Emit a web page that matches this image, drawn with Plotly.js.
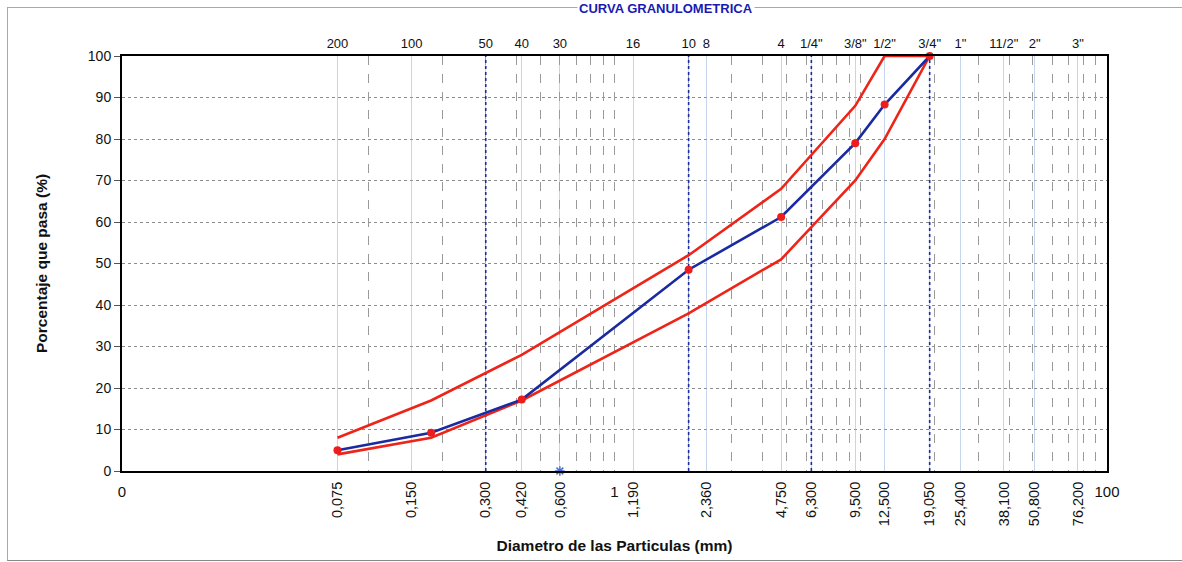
<!DOCTYPE html>
<html><head><meta charset="utf-8">
<script src="https://cdn.plot.ly/plotly-3.0.1.min.js"></script>
<style>
html,body{margin:0;padding:0;background:#fff;}
#wrap{position:relative;width:1182px;height:562px;overflow:hidden;}
#frame{position:absolute;left:7px;top:7px;width:1180px;height:552px;border-left:1px solid #a8a8a8;border-top:1px solid #a8a8a8;border-bottom:1px solid #888;}
#chart{position:absolute;left:0;top:0;width:1182px;height:562px;}
</style></head>
<body><div id="wrap"><div id="frame"></div><div id="chart"></div></div>
<script>
// Sample gradation (mm, % passing)
const sieveSizes = [0.075, 0.18, 0.42, 2.0, 4.75, 9.5, 12.5, 19.05];
const passing    = [5.0, 9.2, 17.2, 48.5, 61.2, 79.0, 88.3, 100];
// Specification envelope
const upperLimit = [8, 17, 28, 52, 68, 88, 100, 100];
const lowerLimit = [4, 8, 17, 38, 51, 70, 80, 100];

// Top axis: sieve designations
const topTickVals = [0.075, 0.15, 0.30, 0.42, 0.60, 1.19, 2.0, 2.36, 4.75, 6.3, 9.5, 12.5, 19.05, 25.4, 38.1, 50.8, 76.2];
const topTickText = ["200", "100", "50", "40", "30", "16", "10", "8", "4", "1/4\"", "3/8\"", "1/2\"", "3/4\"", "1\"", "11/2\"", "2\"", "3\""];

// Bottom axis: openings in mm
const bottomTickVals = [0.075, 0.15, 0.30, 0.42, 0.60, 1.19, 2.36, 4.75, 6.3, 9.5, 12.5, 19.05, 25.4, 38.1, 50.8, 76.2];
const bottomTickText = ["0,075", "0,150", "0,300", "0,420", "0,600", "1,190", "2,360", "4,750", "6,300", "9,500", "12,500", "19,050", "25,400", "38,100", "50,800", "76,200"];

const endTickVals = [0.01, 1, 100];
const endTickText = ["0", "1", "100"];

// Log grid lines
const gridVals = [0.1, 0.2, 0.3, 0.4, 0.5, 0.6, 0.7, 0.8, 0.9,
                  1, 2, 3, 4, 5, 6, 7, 8, 9,
                  10, 20, 30, 40, 50, 60, 70, 80, 90];

// Blue dotted control sieves
const controlLines = [0.3, 2.0, 6.3, 19.05];
const controlLow = 0, controlHigh = 100;

// Marker on the axis
const starX = [0.6];
const starY = [0];

const FONT = "Arial, 'Liberation Sans', sans-serif";
const xr = [-2, 2];

const traces = [];
controlLines.forEach(v => {
  traces.push({x: [v, v], y: [controlLow, controlHigh], mode: 'lines', xaxis: 'x', yaxis: 'y',
    line: {color: '#1b2c9c', width: 1.6, dash: 'dot'}, hoverinfo: 'skip', showlegend: false});
});
traces.push({x: sieveSizes, y: upperLimit, mode: 'lines', line: {color: '#ee2418', width: 2.6}, showlegend: false, cliponaxis: false});
traces.push({x: sieveSizes, y: lowerLimit, mode: 'lines', line: {color: '#ee2418', width: 2.6}, showlegend: false, cliponaxis: false});
traces.push({x: sieveSizes, y: passing, mode: 'lines+markers', line: {color: '#1a2aa0', width: 2.6},
  marker: {color: '#ee1d1d', size: 8}, showlegend: false, cliponaxis: false});
traces.push({x: starX, y: starY, mode: 'markers', marker: {symbol: 'asterisk-open', color: '#4a6fd8', size: 8, line: {color: '#4a6fd8', width: 1.5}},
  showlegend: false, cliponaxis: false});
// anchor traces for overlay axes
traces.push({x: topTickVals, y: topTickVals.map(() => null), xaxis: 'x2', yaxis: 'y', mode: 'markers', showlegend: false, hoverinfo: 'skip'});
traces.push({x: endTickVals, y: endTickVals.map(() => null), xaxis: 'x3', yaxis: 'y', mode: 'markers', showlegend: false, hoverinfo: 'skip'});
traces.push({x: gridVals, y: gridVals.map(() => null), xaxis: 'x4', yaxis: 'y', mode: 'markers', showlegend: false, hoverinfo: 'skip'});

const layout = {
  width: 1182, height: 562,
  margin: {l: 122, r: 75, t: 56, b: 91},
  paper_bgcolor: 'rgba(0,0,0,0)',
  plot_bgcolor: '#ffffff',
  font: {family: FONT, color: '#111'},
  showlegend: false,
  xaxis: {
    type: 'log', range: xr, tickmode: 'array', tickvals: bottomTickVals, ticktext: bottomTickText,
    tickangle: -90, tickfont: {size: 14.5, color: '#111'}, ticks: '', showgrid: false, zeroline: false,
    showline: true, linecolor: '#000', linewidth: 2, mirror: true, ticklabelstandoff: 3,
    title: {text: 'Diametro de las Particulas (mm)', font: {size: 15.5, color: '#111', family: FONT, weight: 'bold'}, standoff: 15}
  },
  xaxis2: {
    type: 'log', range: xr, overlaying: 'x', anchor: 'y', side: 'top', tickmode: 'array',
    tickvals: topTickVals, ticktext: topTickText, ticks: '', tickfont: {size: 13, color: '#111'},
    showgrid: true, gridcolor: 'rgba(150,180,220,0.55)', gridwidth: 1, zeroline: false, showline: false,
    ticklabelstandoff: 4
  },
  xaxis3: {
    type: 'log', range: xr, overlaying: 'x', anchor: 'y', side: 'bottom', tickmode: 'array',
    tickvals: endTickVals, ticktext: endTickText, ticks: '', tickangle: 0, tickfont: {size: 15, color: '#111'},
    showgrid: false, zeroline: false, showline: false, ticklabelstandoff: 10
  },
  xaxis4: {
    type: 'log', range: xr, overlaying: 'x', anchor: 'y', side: 'bottom', tickmode: 'array',
    tickvals: gridVals, showticklabels: false, ticks: '',
    showgrid: true, gridcolor: '#9a9a9a', gridwidth: 1, griddash: 'dash', zeroline: false, showline: false
  },
  yaxis: {
    range: [0, 100], dtick: 10, tick0: 0, ticks: 'outside', ticklen: 6, tickcolor: '#555', tickwidth: 1,
    tickfont: {size: 14, color: '#111'}, showgrid: true, gridcolor: '#8c8c8c', griddash: 'dot', gridwidth: 1,
    zeroline: false, showline: true, linecolor: '#000', linewidth: 2, mirror: true,
    title: {text: 'Porcentaje que pasa (%)', font: {size: 15.5, color: '#111', family: FONT, weight: 'bold'}, standoff: 36}
  },
  annotations: [{
    text: 'CURVA GRANULOMETRICA', xref: 'paper', yref: 'paper', x: 0.552, y: 1.115, xanchor: 'center', yanchor: 'middle',
    showarrow: false, bgcolor: '#ffffff', font: {size: 13, color: '#1a1ab0', family: FONT, weight: 'bold'}
  }]
};

Plotly.newPlot('chart', traces, layout, {displayModeBar: false, staticPlot: true});
</script>
</body></html>
